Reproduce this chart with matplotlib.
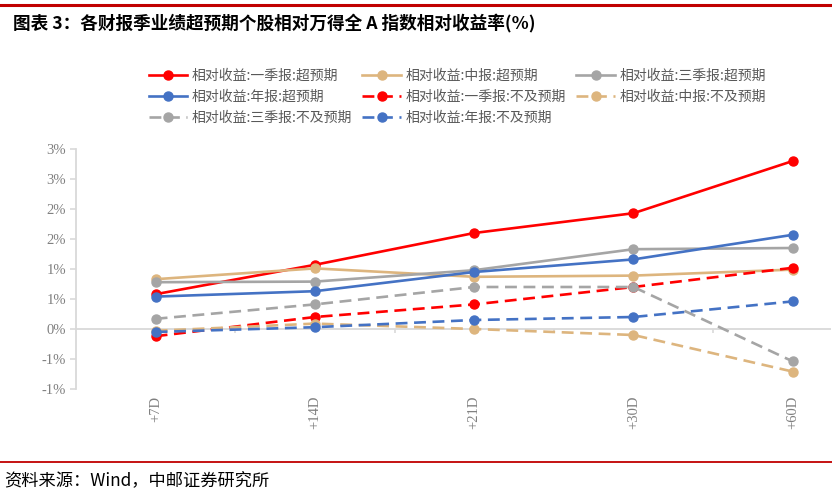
import matplotlib
matplotlib.use("Agg")
import matplotlib.pyplot as plt
from matplotlib.lines import Line2D

plt.rcParams["font.family"] = ["Noto Sans CJK SC", "DejaVu Sans"]

# ---- data ----
periods = ["+7D", "+14D", "+21D", "+30D", "+60D"]

q1_beat = [0.58, 1.07, 1.60, 1.93, 2.80]
mid_beat = [0.83, 1.01, 0.87, 0.89, 0.99]
q3_beat = [0.78, 0.79, 0.98, 1.33, 1.35]
annual_beat = [0.54, 0.63, 0.95, 1.16, 1.57]
q1_miss = [-0.12, 0.20, 0.41, 0.70, 1.02]
mid_miss = [-0.03, 0.09, 0.00, -0.10, -0.71]
q3_miss = [0.17, 0.41, 0.70, 0.70, -0.54]
annual_miss = [-0.05, 0.03, 0.15, 0.20, 0.46]

series_names = [
    "相对收益:一季报:超预期",
    "相对收益:中报:超预期",
    "相对收益:三季报:超预期",
    "相对收益:年报:超预期",
    "相对收益:一季报:不及预期",
    "相对收益:中报:不及预期",
    "相对收益:三季报:不及预期",
    "相对收益:年报:不及预期",
]
series_values = [q1_beat, mid_beat, q3_beat, annual_beat,
                 q1_miss, mid_miss, q3_miss, annual_miss]

y_ticks = [-1.0, -0.5, 0.0, 0.5, 1.0, 1.5, 2.0, 2.5, 3.0]
y_tick_labels = ["-1%", "-1%", "0%", "1%", "1%", "2%", "2%", "3%", "3%"]

title = "图表 3：各财报季业绩超预期个股相对万得全 A 指数相对收益率(%)"
source = "资料来源：Wind，中邮证券研究所"

# ---- styles ----
colors = ["#FF0000", "#DDB57E", "#A5A5A5", "#4472C4"] * 2
solid = [True] * 4 + [False] * 4
axis_grey = "#D9D9D9"
label_grey = "#808080"

fig = plt.figure(figsize=(8.32, 5.04), dpi=100)
ax = fig.add_axes([76 / 832, 115 / 504, 755 / 832, 240 / 504])

x = list(range(len(periods)))
handles = []
for name, vals, c, s in zip(series_names, series_values, colors, solid):
    kw = dict(color=c, lw=1.9, marker="o", markersize=6.5, label=name)
    if not s:
        kw["linestyle"] = (0, (4.5, 2.5))
    (ln,) = ax.plot(x, vals, **kw)
    handles.append(ln)

ax.set_xlim(-0.5, 4.24)
ax.set_ylim(-1.0, 3.0)

# zero line with category boundary ticks
ax.axhline(0, color=axis_grey, lw=1.3, zorder=0)
ax.vlines([i + 0.5 for i in x[:-1]], -0.07, 0, color=axis_grey, lw=1.2, zorder=0)

ax.set_yticks(y_ticks)
ax.set_yticklabels(y_tick_labels)
ax.set_xticks(x)
ax.set_xticklabels(periods, rotation=90)

for sp in ("top", "right", "bottom"):
    ax.spines[sp].set_visible(False)
ax.spines["left"].set_color(axis_grey)
ax.spines["left"].set_linewidth(1.3)
ax.tick_params(axis="y", colors=axis_grey, length=4, width=1.2, pad=3)
ax.tick_params(axis="x", length=0, pad=5)
for lab in ax.get_yticklabels() + ax.get_xticklabels():
    lab.set_color(label_grey)
    lab.set_fontfamily("Liberation Serif")
    lab.set_fontsize(10.5)

# legend, row-major order in 3 columns
order = [0, 3, 6, 1, 4, 7, 2, 5]
leg = fig.legend(
    [handles[i] for i in order],
    [series_names[i] for i in order],
    loc="upper left",
    bbox_to_anchor=(136 / 832, 1 - 56 / 504),
    ncol=3,
    frameon=False,
    fontsize=10,
    handlelength=2.75,
    handletextpad=0.36,
    columnspacing=0.75,
    labelspacing=0.53,
)
for t in leg.get_texts():
    t.set_color("#595959")

# header / footer decoration
fig.add_artist(Line2D([0, 1], [1 - 5 / 504] * 2, color="#C00000", lw=2.2))
fig.text(13 / 832, 1 - 23 / 504, title, fontsize=12.7, fontweight="bold",
         va="center", ha="left", color="#000000")
fig.add_artist(Line2D([0, 1], [1 - 462 / 504] * 2, color="#C00000", lw=1.3))
fig.text(4 / 832, 1 - 481 / 504, source, fontsize=12.4, va="center",
         ha="left", color="#000000")

fig.savefig("out.png", dpi=100)
